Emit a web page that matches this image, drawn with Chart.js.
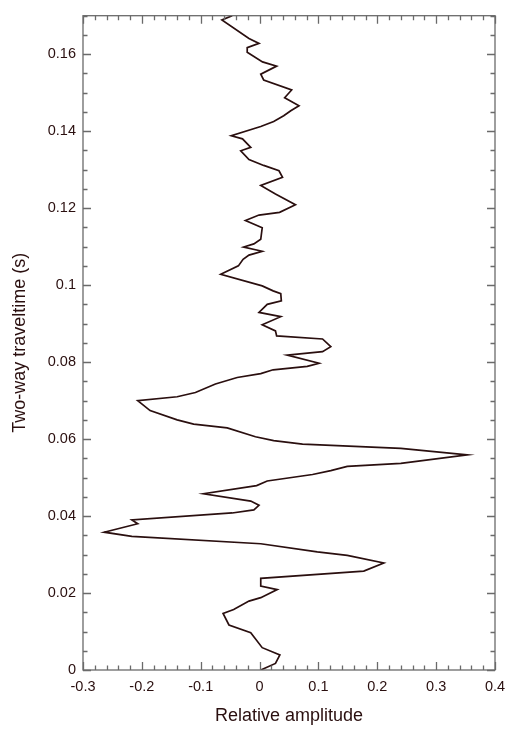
<!DOCTYPE html>
<html>
<head>
<meta charset="utf-8">
<script src="https://cdn.jsdelivr.net/npm/chart.js@4/dist/chart.umd.min.js"></script>
<style>
  html, body { margin: 0; padding: 0; background: #fff; }
  #wrap { width: 518px; height: 731px; }
</style>
</head>
<body>
<div id="wrap"><canvas id="myChart" width="518" height="731"></canvas></div>
<script>
// Two-way traveltime (s), bottom to top
const traveltime = [
  0, 0.0017, 0.0039, 0.0058, 0.0097, 0.0117, 0.0147, 0.0157, 0.0179, 0.0188,
  0.0209, 0.0218, 0.0238, 0.0257, 0.0278, 0.0298, 0.0307, 0.0328, 0.0347, 0.0358,
  0.038, 0.039, 0.0408, 0.0416, 0.0428, 0.0439, 0.0458, 0.0479, 0.0491, 0.0508,
  0.0518, 0.0529, 0.0537, 0.0559, 0.0576, 0.0587, 0.0596, 0.0606, 0.0629, 0.0639,
  0.065, 0.0674, 0.07, 0.071, 0.0721, 0.0743, 0.076, 0.077, 0.078, 0.0789,
  0.0797, 0.0818, 0.0827, 0.084, 0.086, 0.0868, 0.0881, 0.0897, 0.0918, 0.0929,
  0.095, 0.0959, 0.0978, 0.0985, 0.0998, 0.1028, 0.105, 0.1067, 0.1078, 0.1088,
  0.1099, 0.1107, 0.1119, 0.1149, 0.1168, 0.1182, 0.1189, 0.1209, 0.1237, 0.1259,
  0.128, 0.1297, 0.1311, 0.1326, 0.1349, 0.1358, 0.138, 0.1388, 0.1412, 0.1425,
  0.144, 0.1453, 0.1466, 0.1487, 0.1507, 0.1533, 0.1548, 0.1569, 0.158, 0.1605,
  0.1617, 0.1628, 0.1641, 0.1689, 0.17
];

// Relative amplitude at each traveltime
const amplitude = [
  0.002, 0.027, 0.0345, 0.0045, -0.015, -0.052, -0.062, -0.044, -0.018, 0.002,
  0.030, 0.002, 0.002, 0.177, 0.211, 0.149, 0.098, 0.002, -0.217, -0.264,
  -0.207, -0.217, -0.0465, -0.0097, -0.001, -0.015, -0.095, -0.005, 0.013, 0.090,
  0.121, 0.149, 0.240, 0.353, 0.240, 0.073, 0.024, -0.007, -0.055, -0.112,
  -0.140, -0.186, -0.207, -0.140, -0.109, -0.075, -0.038, 0.002, 0.023, 0.081,
  0.101, 0.047, 0.107, 0.121, 0.107, 0.029, 0.027, 0.0045, 0.036, -0.001,
  0.013, 0.037, 0.036, 0.023, 0.0045, -0.066, -0.036, -0.028, -0.018, 0.0045,
  -0.027, -0.0097, 0.002, 0.0045, -0.024, -0.001, 0.034, 0.061, 0.027, 0.002,
  0.039, 0.033, 0.007, -0.018, -0.032, -0.015, -0.029, -0.048, 0.002, 0.024,
  0.041, 0.053, 0.067, 0.0426, 0.0545, 0.007, 0.002, 0.029, 0.005, -0.021,
  -0.021, -0.001, -0.018, -0.064, -0.0465
];

// Axis ranges and tick steps
const xRange = [-0.3, 0.4];
const yRange = [0, 0.17];
const xLabelStep = 0.1, xMinorStep = 0.02;
const yLabelStep = 0.02, yMinorStep = 0.005;

const inkColor = "#2a0f0f";
const frameColor = "#6a6a6a";
const fontFamily = "'Liberation Sans', Arial, Helvetica, sans-serif";

// Frame plus inward ticks on all four sides
const framePlugin = {
  id: "frameTicks",
  afterDraw(chart) {
    const ctx = chart.ctx;
    const area = chart.chartArea;
    const xs = chart.scales.x, ys = chart.scales.y;
    ctx.save();
    ctx.strokeStyle = frameColor;
    ctx.lineWidth = 1.3;
    ctx.strokeRect(area.left, area.top, area.right - area.left, area.bottom - area.top);

    ctx.beginPath();
    const nx = Math.round((xRange[1] - xRange[0]) / xMinorStep);
    for (let i = 0; i <= nx; i++) {
      const v = xRange[0] + i * xMinorStep;
      const px = Math.round(xs.getPixelForValue(v)) + 0.5;
      const len = (i % 5 === 0) ? 8 : 4.5;
      ctx.moveTo(px, area.bottom); ctx.lineTo(px, area.bottom - len);
      ctx.moveTo(px, area.top); ctx.lineTo(px, area.top + len);
    }
    const ny = Math.round((yRange[1] - yRange[0]) / yMinorStep);
    for (let i = 0; i <= ny; i++) {
      const v = yRange[0] + i * yMinorStep;
      const py = Math.round(ys.getPixelForValue(v)) + 0.5;
      const len = (i % 4 === 0) ? 8 : 4.5;
      ctx.moveTo(area.left, py); ctx.lineTo(area.left + len, py);
      ctx.moveTo(area.right, py); ctx.lineTo(area.right - len, py);
    }
    ctx.stroke();
    ctx.restore();
  }
};

const points = traveltime.map((t, i) => ({ x: amplitude[i], y: t }));

const ctx = document.getElementById("myChart").getContext("2d");
new Chart(ctx, {
  type: "scatter",
  data: {
    datasets: [{
      data: points,
      showLine: true,
      borderColor: inkColor,
      borderWidth: 1.7,
      pointRadius: 0,
      tension: 0
    }]
  },
  options: {
    responsive: false,
    animation: false,
    layout: { padding: { top: 14, right: 23, left: 0, bottom: 0 } },
    plugins: { legend: { display: false }, tooltip: { enabled: false } },
    scales: {
      x: {
        type: "linear",
        min: xRange[0],
        max: xRange[1],
        grid: { display: false, drawTicks: false },
        border: { display: false },
        afterFit(scale) { scale.height = 61; },
        ticks: {
          stepSize: xLabelStep,
          includeBounds: false,
          padding: 8,
          color: inkColor,
          font: { family: fontFamily, size: 14.5 },
          maxRotation: 0,
          callback: v => String(+v.toFixed(2))
        },
        title: {
          display: true,
          text: "Relative amplitude",
          color: inkColor,
          font: { family: fontFamily, size: 18 },
          padding: { top: 0, bottom: 4 }
        }
      },
      y: {
        type: "linear",
        min: yRange[0],
        max: yRange[1],
        grid: { display: false, drawTicks: false },
        border: { display: false },
        afterFit(scale) { scale.width = 83; },
        ticks: {
          stepSize: yLabelStep,
          includeBounds: false,
          padding: 7,
          color: inkColor,
          font: { family: fontFamily, size: 14.5 },
          callback: v => String(+v.toFixed(2))
        },
        title: {
          display: true,
          text: "Two-way traveltime (s)",
          color: inkColor,
          font: { family: fontFamily, size: 18 },
          padding: { top: 9, bottom: 0 }
        }
      }
    }
  },
  plugins: [framePlugin]
});
</script>
</body>
</html>
